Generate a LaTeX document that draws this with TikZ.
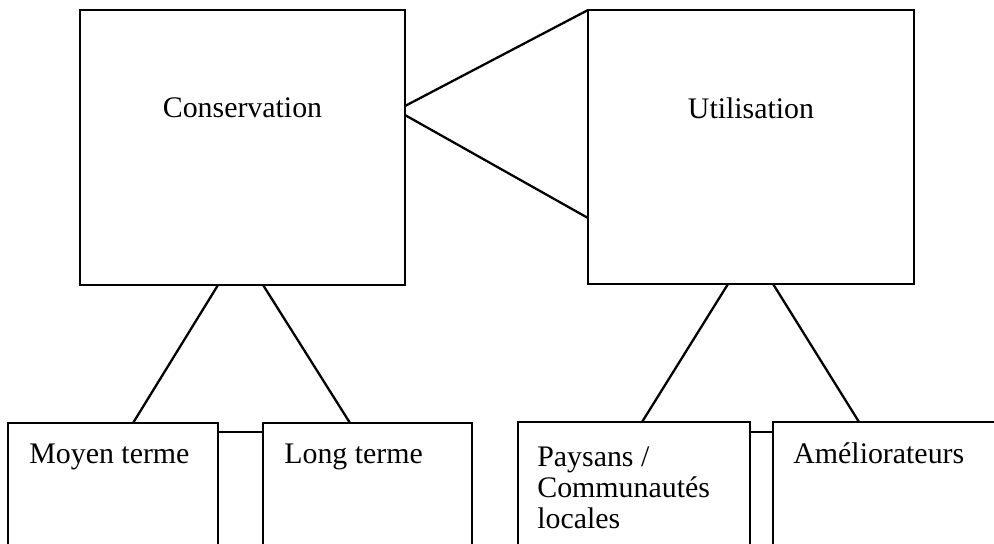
\documentclass[tikz,border=0pt]{standalone}
\usepackage{fontspec}
\setmainfont{Liberation Serif}
\usetikzlibrary{calc}
\tikzset{
  box/.style={draw, line width=1.3pt, inner sep=0pt, outer sep=0pt},
  boxtext/.style={font=\fontsize{17}{17.8}\selectfont, inner sep=0pt, align=left},
  link/.style={line width=1.3pt}
}
\begin{document}
\begin{tikzpicture}[x=0.02cm,y=-0.02cm]
\useasboundingbox (0,0) rectangle (994,544);
\clip (0,0) rectangle (994,544);
% upper boxes
\node[box, minimum width=6.5cm, minimum height=5.5cm] (cons) at (242.5,147.5) {};
\node[box, minimum width=6.52cm, minimum height=5.48cm] (util) at (751,147) {};
\node[boxtext, anchor=base] (tcons) at ($(cons.north)+(0,107)$) {Conservation};
\node[boxtext, anchor=base] (tutil) at ($(util.north)+(0,108)$) {Utilisation};
% lower boxes
\node[box, minimum width=4.2cm, minimum height=2.74cm] (moyen) at (113,491.5) {};
\node[box, minimum width=4.18cm, minimum height=2.74cm] (long) at (367.5,491.5) {};
\node[box, minimum width=4.64cm, minimum height=2.76cm] (paysans) at (634,491) {};
\node[box, minimum width=4.74cm, minimum height=2.76cm] (amelio) at (891.5,491) {};
\node[boxtext, anchor=base west] (tmoyen) at ($(moyen.north west)+(21,40)$) {Moyen terme};
\node[boxtext, anchor=base west] (tlong) at ($(long.north west)+(21,40)$) {Long terme};
\node[boxtext, anchor=north west] (tpaysans) at ($(paysans.north west)+(19,24)$) {Paysans /\\Communautés\\locales};
\node[boxtext, anchor=base west] (tamelio) at ($(amelio.north west)+(20,41)$) {Améliorateurs};
% links
\draw[link] ($(cons.north east)+(0,96)$) -- (util.north west);
\draw[link] ($(cons.north east)+(0,105)$) -- ($(util.north west)+(0,208)$);
\draw[link] ($(cons.south west)+(138,0)$) -- ($(moyen.north west)+(125,0)$);
\draw[link] ($(cons.south west)+(183,0)$) -- ($(long.north west)+(87,0)$);
\draw[link] ($(util.south west)+(140,0)$) -- ($(paysans.north west)+(124,0)$);
\draw[link] ($(util.south west)+(185,0)$) -- ($(amelio.north west)+(86,0)$);
\draw[link] ($(moyen.north east)+(0,9)$) -- ($(long.north west)+(0,9)$);
\draw[link] ($(paysans.north east)+(0,10)$) -- ($(amelio.north west)+(0,10)$);
\end{tikzpicture}
\end{document}
